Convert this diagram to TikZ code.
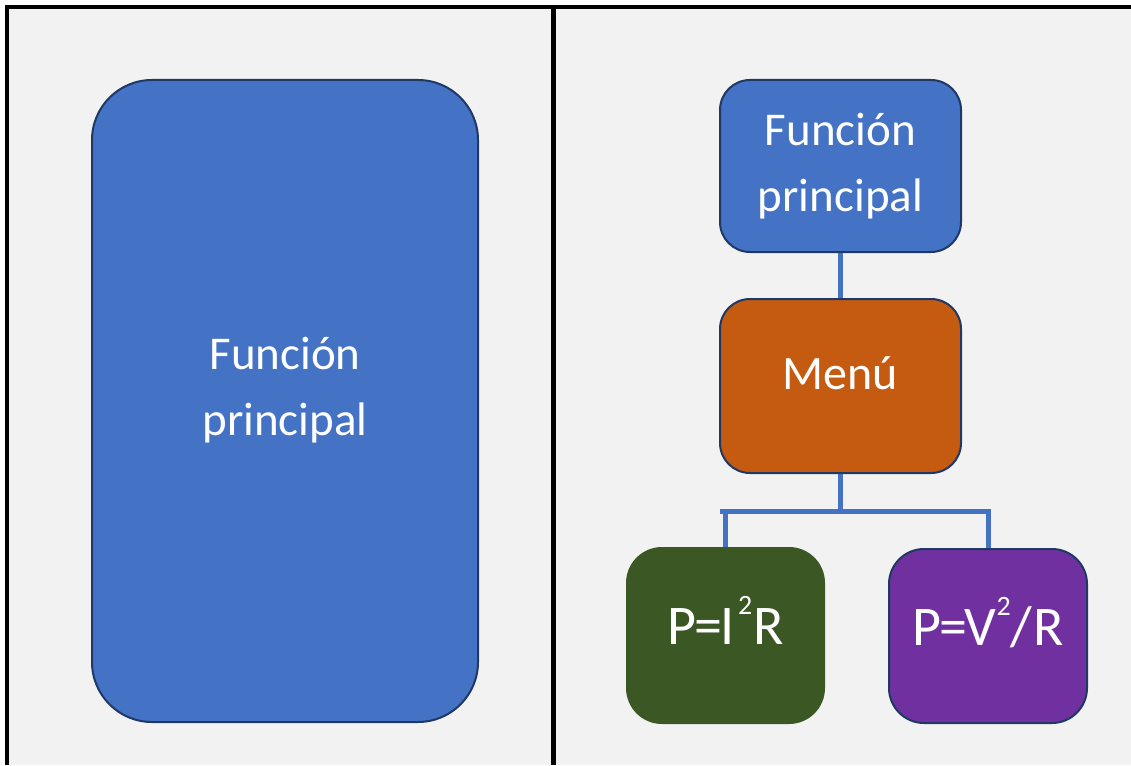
\documentclass[tikz,border=0pt]{standalone}
\usepackage{fontspec}
\setmainfont{Carlito}
\definecolor{bg}{HTML}{F2F2F2}
\definecolor{cblue}{HTML}{4472C4}
\definecolor{navy}{HTML}{1F3864}
\definecolor{corange}{HTML}{C55A11}
\definecolor{cgreen}{HTML}{3B5723}
\definecolor{cpurple}{HTML}{7030A0}
\newcommand{\supnum}[1]{\raisebox{30pt}{\fontsize{28}{28}\selectfont #1}}
\newcommand{\twoline}[2]{\begin{tabular}[b]{@{}c@{}}#1\\#2\end{tabular}}
\begin{document}
\begin{tikzpicture}[x=1pt,y=-1pt,
  box/.style={draw=navy, line width=2pt, text=white, inner sep=0pt, text depth=0pt},
  bigtext/.style={font=\fontsize{47}{66}\selectfont},
  formtext/.style={font=\fontsize{56}{66}\selectfont},
  link/.style={draw=cblue, line width=5pt},
  frame/.style={draw=black}]
\useasboundingbox (0,0) rectangle (1131,765);
\fill[bg] (5,5) rectangle (1131,765);
\draw[frame, line width=4pt] (7,765) -- (7,7) -- (1131,7);
\draw[frame, line width=5pt] (553.5,5) -- (553.5,765);
\node[box, bigtext, fill=cblue, minimum width=386, minimum height=642, rounded corners=60,
  text height=69pt] (main) at (285,401) {\twoline{Función}{principal}};
\node[box, bigtext, fill=cblue, minimum width=241, minimum height=172, rounded corners=30,
  text height=91pt] (top) at (840.5,166) {\twoline{Función}{principal}};
\node[box, fill=corange, minimum width=241, minimum height=174, rounded corners=30,
  font=\fontsize{48}{58}\selectfont, text height=6pt] (menu) at (840.5,386) {Menú};
\node[box, formtext, draw=cgreen, fill=cgreen, minimum width=197, minimum height=175, rounded corners=35,
  text height=18pt] (pi) at (725.5,635.5) {P\kern-2pt=\kern-2pt I\kern4pt\supnum{2}\kern1pt R};
\node[box, formtext, fill=cpurple, minimum width=198, minimum height=174, rounded corners=35,
  text height=18pt] (pv) at (988,636) {P\kern-2pt=\kern-2pt V\kern0pt\supnum{2}\kern0pt/\kern1pt R};
\coordinate (hm) at (840.5,511);
\coordinate (hl) at (720,511);
\coordinate (hr) at (991,511);
\draw[link] (top.south) -- (menu.north);
\draw[link] (menu.south) -- (hm);
\draw[link] (hl) -- (hr);
\draw[link] (pi.north) -- (pi.north |- hl);
\draw[link] (pv.north) -- (pv.north |- hl);
\end{tikzpicture}
\end{document}
